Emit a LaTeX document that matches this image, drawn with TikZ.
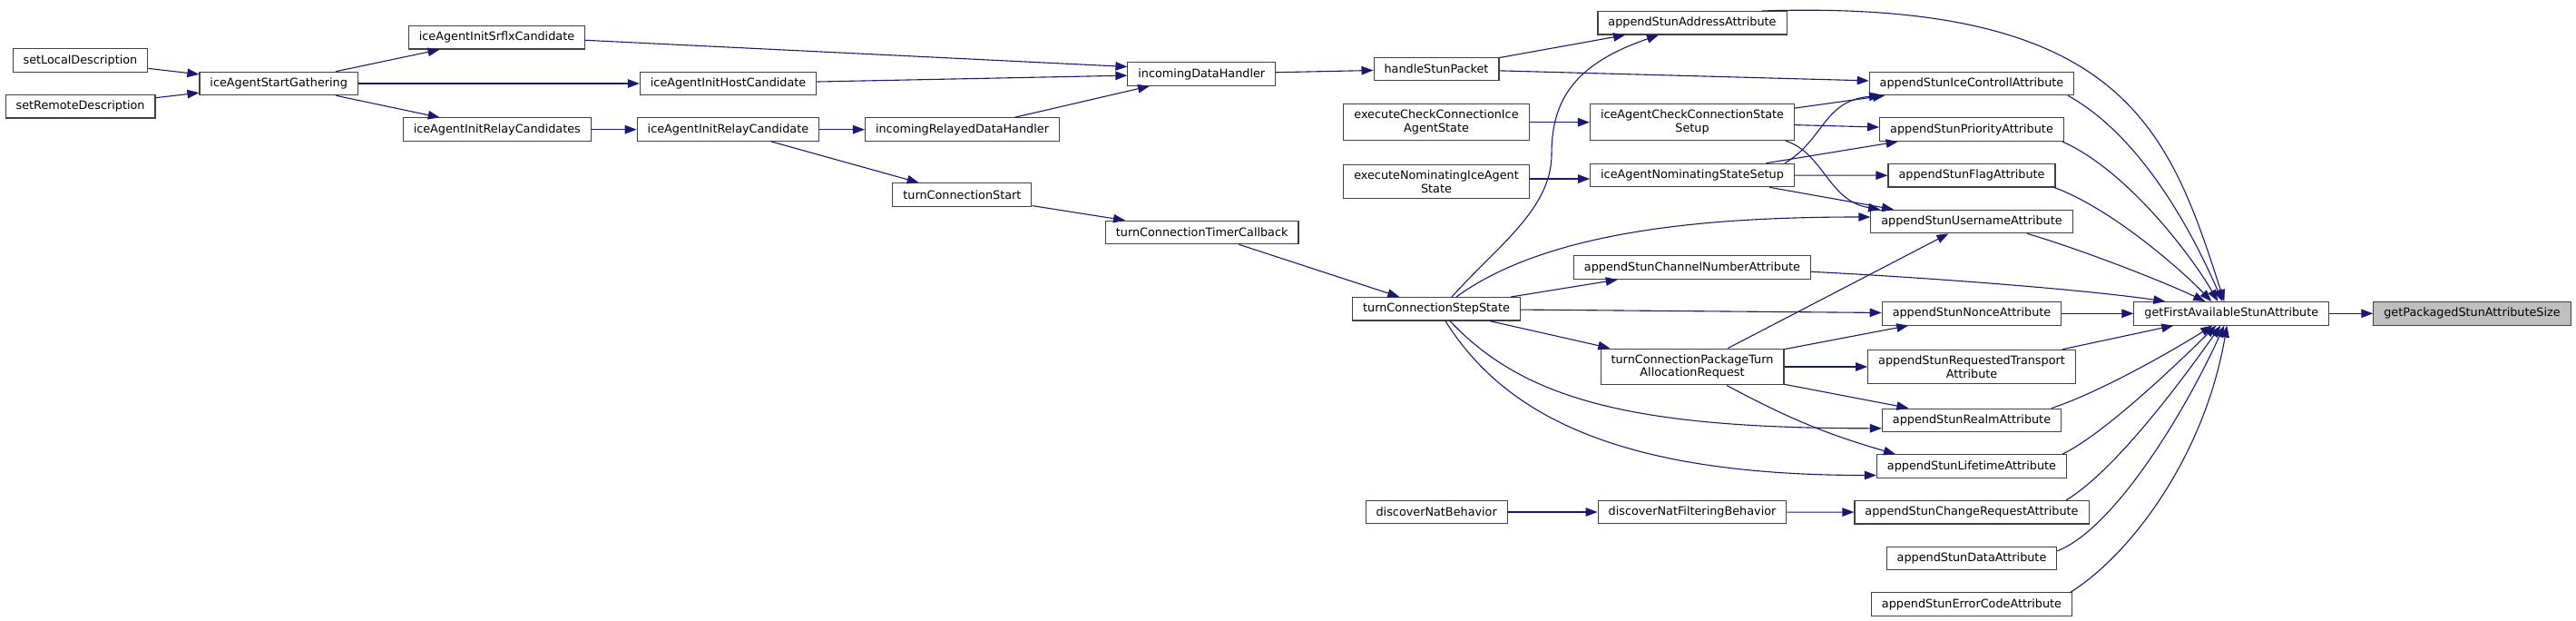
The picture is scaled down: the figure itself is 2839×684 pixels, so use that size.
\documentclass[tikz,border=0pt]{standalone}
\usepackage{fontspec}
\setmainfont{DejaVu Sans}
\usetikzlibrary{arrows.meta}

\definecolor{midnight}{RGB}{25,25,112}
\definecolor{boxline}{RGB}{64,64,64}
\definecolor{hilite}{RGB}{191,191,191}

\tikzset{
	fn/.style={draw=boxline, fill=white, line width=1.1pt, inner xsep=11.5pt, inner ysep=6.4pt,
		minimum height=25.5pt, align=center, font=\fontsize{12.8}{14.7}\selectfont},
	call/.style={draw=midnight, line width=1.1pt, -{Triangle[length=13pt,width=9.5pt]}},
}

\begin{document}
\begin{tikzpicture}[x=1pt, y=-1pt]
	\useasboundingbox (0,0) rectangle (2839,684);

	% callers on the left
	\node[fn] (setlocal) at (88.5,66.7) {setLocalDescription};
	\node[fn] (setremote) at (88.6,117.3) {setRemoteDescription};
	\node[fn] (gather) at (307.2,92) {iceAgentStartGathering};
	\node[fn] (srflx) at (547.5,41.3) {iceAgentInitSrflxCandidate};
	\node[fn] (relays) at (547.8,142.7) {iceAgentInitRelayCandidates};
	\node[fn] (host) at (802.6,92) {iceAgentInitHostCandidate};
	\node[fn] (relay) at (802.4,142.7) {iceAgentInitRelayCandidate};
	\node[fn] (relayed) at (1060.5,142.7) {incomingRelayedDataHandler};
	\node[fn] (turnstart) at (1060.4,214.5) {turnConnectionStart};
	\node[fn] (incoming) at (1324.3,81.5) {incomingDataHandler};
	\node[fn] (timer) at (1324.7,256) {turnConnectionTimerCallback};

	% middle columns
	\node[fn] (handle) at (1583,76) {handleStunPacket};
	\node[fn] (execcheck) at (1583,134.7) {executeCheckConnectionIce\\AgentState};
	\node[fn] (execnom) at (1583,200) {executeNominatingIceAgent\\State};
	\node[fn] (stepstate) at (1583,340.3) {turnConnectionStepState};
	\node[fn] (natbeh) at (1583.2,564) {discoverNatBehavior};
	\node[fn] (addr) at (1865,25.3) {appendStunAddressAttribute};
	\node[fn] (checksetup) at (1865,134.7) {iceAgentCheckConnectionState\\Setup};
	\node[fn] (nomsetup) at (1865,193) {iceAgentNominatingStateSetup};
	\node[fn] (channel) at (1865,294.7) {appendStunChannelNumberAttribute};
	\node[fn] (pkgturn) at (1865,404) {turnConnectionPackageTurn\\AllocationRequest};
	\node[fn] (natfilt) at (1865,564) {discoverNatFilteringBehavior};

	% the appendStun... column
	\foreach \nm/\txt/\y in {icectl/IceControll/92, prio/Priority/142.7, flag/Flag/193.3,
		user/Username/244, nonce/Nonce/345.3, realm/Realm/462.8, life/Lifetime/513.5,
		change/ChangeRequest/564.2, data/Data/614.8, errcode/ErrorCode/665.5}
		\node[fn] (\nm) at (2173,\y) {appendStun\txt Attribute};
	\node[fn] (reqtrans) at (2173,404) {appendStunRequestedTransport\\Attribute};

	\node[fn] (firstattr) at (2459.3,345.3) {getFirstAvailableStunAttribute};
	\node[fn, fill=hilite] (attrsize) at (2724.5,345.3) {getPackagedStunAttributeSize};

	% ice agent side
	\draw[call] (setlocal) -- (gather);
	\draw[call] (setremote) -- (gather);
	\draw[call] (gather) -- (srflx);
	\draw[call] (gather) -- (host);
	\draw[call] (gather) -- (relays);
	\draw[call] ([yshift=-3pt]srflx.east) -- ([yshift=8pt]incoming.west);
	\draw[call] (host) -- (incoming);
	\draw[call] (relays) -- (relay);
	\draw[call] (relay) -- (relayed);
	\draw[call] (relayed) -- (incoming);
	\draw[call] (relay) -- (turnstart);
	\draw[call] (turnstart) -- (timer);
	\draw[call] (timer) -- (stepstate);
	\draw[call] (incoming) -- (handle);
	\draw[call] (handle) -- (addr);
	\draw[call] (handle) -- (icectl);
	\draw[call] (execcheck) -- (checksetup);
	\draw[call] ([yshift=3pt]execnom.east) -- ([yshift=-4pt]nomsetup.west);

	% state setup calls
	\draw[call] (checksetup) -- (icectl);
	\draw[call] (checksetup) -- (prio);
	\draw[call] ([xshift=103pt]checksetup.south) .. controls +(41.7,13.3) and +(-57,-9.3) .. ([xshift=-101pt]user.north);
	\draw[call] ([xshift=102pt]nomsetup.north) .. controls +(43,-25.3) and +(-63.2,5.3) .. ([xshift=-100pt]icectl.south);
	\draw[call] (nomsetup) -- (prio);
	\draw[call] (nomsetup) -- (flag);
	\draw[call] ([xshift=85pt]nomsetup.south) -- ([xshift=-86pt]user.north);

	% turn connection calls
	\draw[call] ([xshift=17pt]stepstate.north) .. controls +(50,-55.7) and +(0,60) .. (1710,170)
		.. controls +(0,-60) and +(-93,32) .. ([xshift=-37pt]addr.south);
	\draw[call] ([xshift=22pt]stepstate.north) .. controls +(100,-72.7) and +(-181.6,0) .. ([yshift=5pt]user.west);
	\draw[call] (stepstate) -- (channel);
	\draw[call] (stepstate) -- (nonce);
	\draw[call] (stepstate) -- (pkgturn);
	\draw[call] ([xshift=15pt]stepstate.south) .. controls +(82,87) and +(-273.5,0) .. ([yshift=-9pt]realm.west);
	\draw[call] ([xshift=10pt]stepstate.south) .. controls +(67,107) and +(-278,0) .. ([yshift=-10pt]life.west);
	\draw[call] (pkgturn) -- (user);
	\draw[call] (pkgturn) -- (nonce);
	\draw[call] (pkgturn) -- (reqtrans);
	\draw[call] (pkgturn) -- (realm);
	\draw[call] ([xshift=38pt]pkgturn.south) to[bend right=6] ([xshift=-84pt]life.north);
	\draw[call] (natbeh) -- (natfilt);
	\draw[call] (natfilt) -- (change);

	% everything into getFirstAvailableStunAttribute
	\draw[call] ([xshift=77pt]addr.north) .. controls +(398,-12.7) and +(-61.3,-190.7) .. ([xshift=-8pt]firstattr.north);
	\draw[call] ([xshift=106pt]icectl.south) .. controls +(75,41.3) and +(-39,-89.7) .. ([xshift=-10pt]firstattr.north);
	\draw[call] ([xshift=100pt]prio.south) .. controls +(71,31.7) and +(-30,-51.7) .. ([xshift=-15pt]firstattr.north);
	\draw[call] ([xshift=91pt]flag.south) .. controls +(61,22) and +(-35.3,-36.7) .. ([xshift=-22pt]firstattr.north);
	\draw[call] ([xshift=61pt]user.south) .. controls +(55,16) and +(-50.3,-23.7) .. ([xshift=-29pt]firstattr.north);
	\draw[call] ([yshift=-4.6pt]channel.east) .. controls +(134,6.7) and +(-86.3,-12.7) .. ([xshift=-73pt]firstattr.north);
	\draw[call] (nonce) -- (firstattr);
	\draw[call] ([xshift=100pt]reqtrans.north) -- ([xshift=-64pt]firstattr.south);
	\draw[call] ([xshift=88pt]realm.north) .. controls +(50,-16) and +(-45.3,28.7) .. ([xshift=-21pt]firstattr.south);
	\draw[call] ([xshift=100pt]life.north) .. controls +(45,-21.7) and +(-44.3,43.7) .. ([xshift=-17pt]firstattr.south);
	\draw[call] ([xshift=104pt]change.north) .. controls +(50.5,-30.3) and +(-50.3,71.4) .. ([xshift=-12pt]firstattr.south);
	\draw[call] ([yshift=8pt]data.east) .. controls +(61.3,-23.8) and +(-45.3,99.4) .. ([xshift=-8pt]firstattr.south);
	\draw[call] ([xshift=109pt]errcode.north) .. controls +(68,-42.7) and +(-24.3,141.7) .. ([xshift=-5pt]firstattr.south);
	\draw[call] (firstattr) -- (attrsize);

\end{tikzpicture}
\end{document}
